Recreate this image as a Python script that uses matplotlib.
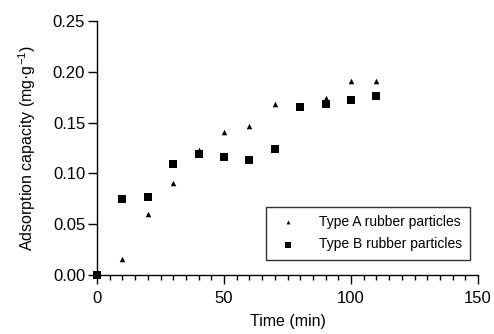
import numpy as np
import matplotlib
matplotlib.use("Agg")
import matplotlib.pyplot as plt
from matplotlib.ticker import MultipleLocator

time_min = [0, 10, 20, 30, 40, 50, 60, 70, 80, 90, 100, 110]
type_a = [0.0, 0.016, 0.060, 0.091, 0.123, 0.141, 0.147, 0.168, 0.165, 0.174, 0.191, 0.191]
type_b = [0.0, 0.075, 0.077, 0.109, 0.119, 0.116, 0.113, 0.124, 0.165, 0.168, 0.172, 0.176]

plt.rcParams['font.family'] = ['Liberation Sans', 'DejaVu Sans']
plt.rcParams['mathtext.fontset'] = 'custom'
plt.rcParams['mathtext.rm'] = 'Liberation Sans'
plt.rcParams['mathtext.it'] = 'Liberation Sans'

fig = plt.figure(figsize=(4.94, 3.34), dpi=100)
ax = fig.add_axes([97 / 494, 1 - 275 / 334, (478 - 97) / 494, (275 - 21) / 334])

ax.scatter(time_min, type_a, marker='^', s=16, color='black', linewidths=0,
           label='Type A rubber particles', clip_on=False, zorder=3)
ax.scatter(time_min, type_b, marker='s', s=32, color='black', linewidths=0,
           label='Type B rubber particles', clip_on=False, zorder=3)

ax.set_xlim(0, 150)
ax.set_ylim(0, 0.25)
ax.xaxis.set_major_locator(MultipleLocator(50))
ax.xaxis.set_minor_locator(MultipleLocator(5))
ax.yaxis.set_major_locator(MultipleLocator(0.05))
ax.yaxis.set_major_formatter(plt.FormatStrFormatter('%.2f'))

for side in ['top', 'right']:
    ax.spines[side].set_visible(False)
for side in ['left', 'bottom']:
    ax.spines[side].set_linewidth(1.0)

ax.tick_params(axis='both', which='major', length=6.5, width=1.0, labelsize=12)
ax.tick_params(axis='x', which='major', pad=5)
ax.tick_params(axis='y', which='major', pad=2)
ax.tick_params(axis='x', which='minor', length=3.6, width=1.0)

ax.set_xlabel('Time (min)', fontsize=11.5, labelpad=6)
ax.set_ylabel('Adsorption capacity (mg·g$^{\\mathrm{-1}}$)', fontsize=11.5, labelpad=11)

leg = ax.legend(loc='lower right', bbox_to_anchor=(0.98, 0.06), fontsize=10,
                frameon=True, fancybox=False, edgecolor='black',
                handletextpad=1.2, borderpad=0.6, labelspacing=0.6,
                markerscale=0.7, borderaxespad=0)
leg.get_frame().set_linewidth(1.0)

fig.savefig('out.png', dpi=100)
